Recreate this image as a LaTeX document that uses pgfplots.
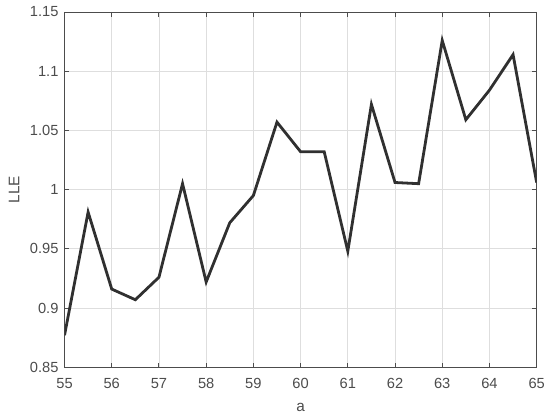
\documentclass[border=0pt]{standalone}
\usepackage{pgfplots}
\pgfplotsset{compat=1.18}
\usepackage{fontspec}
\setmainfont{Liberation Sans}
\definecolor{axgray}{gray}{0.3}
\definecolor{gridgray}{gray}{0.87}
\definecolor{linegray}{HTML}{303030}
\begin{document}
\begin{tikzpicture}
\begin{axis}[
  scale only axis,
  width=354.2pt, height=266.5pt,
  xmin=55, xmax=65, ymin=0.85, ymax=1.15,
  xtick={55,56,...,65},
  ytick={0.85,0.9,0.95,1,1.05,1.1,1.15},
  yticklabels={0.85,0.9,0.95,1,1.05,1.1,1.15},
  grid=major,
  major grid style={gridgray, line width=0.5pt},
  axis line style={axgray, line width=0.7pt},
  tick style={axgray, line width=0.7pt},
  tick align=inside,
  major tick length=3.5pt,
  ticklabel style={font=\fontsize{11}{13}\selectfont, text=axgray},
  /pgf/number format/assume math mode=true,
  xlabel={a}, ylabel={LLE},
  label style={font=\fontsize{11.5}{13}\selectfont, text=axgray},
  xlabel style={yshift=-4pt},
  ylabel style={yshift=1pt},
  xticklabel style={yshift=-4.5pt},
  yticklabel style={xshift=-1pt},
]
\addplot[linegray, line width=2.1pt, line join=miter, mark=none] coordinates {
(55,0.877) (55.5,0.981) (56,0.916) (56.5,0.907) (57,0.926) (57.5,1.005)
(58,0.922) (58.5,0.972) (59,0.995) (59.5,1.057) (60,1.032) (60.5,1.032)
(61,0.948) (61.5,1.072) (62,1.006) (62.5,1.005) (63,1.126) (63.5,1.059)
(64,1.084) (64.5,1.114) (65,1.006)
};
\end{axis}
\path[use as bounding box] ([xshift=-48.4pt,yshift=-35.8pt]current axis.south west) rectangle ([xshift=10pt,yshift=9pt]current axis.north east);
\end{tikzpicture}
\end{document}
